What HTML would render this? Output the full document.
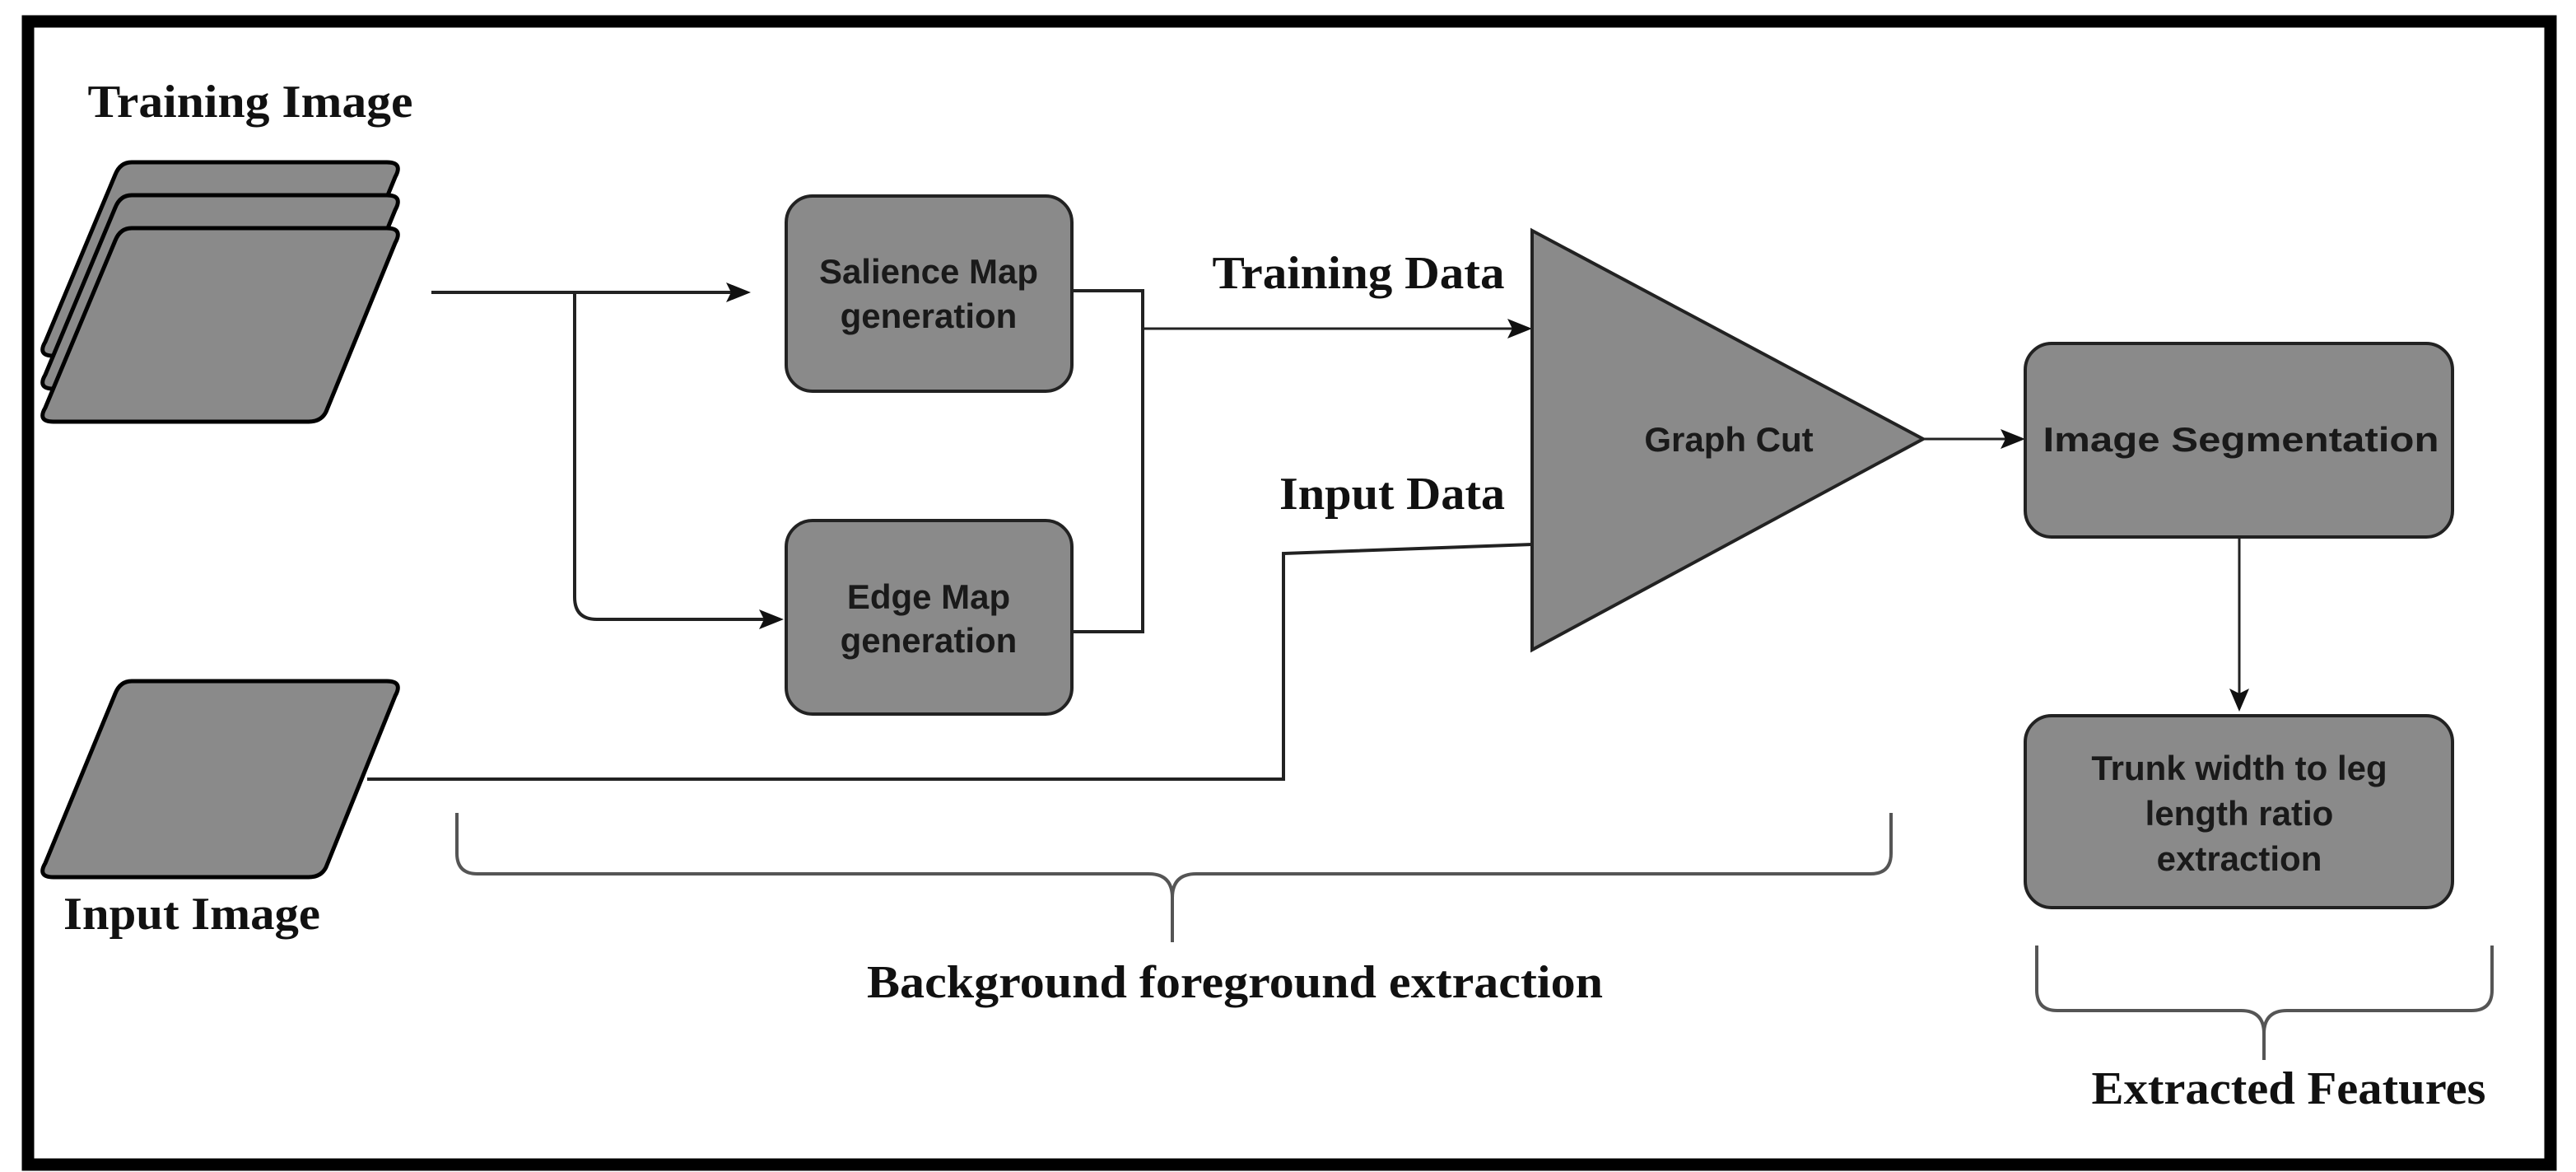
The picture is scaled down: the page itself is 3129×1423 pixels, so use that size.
<!DOCTYPE html>
<html><head><meta charset="utf-8"><style>
html,body{margin:0;padding:0;background:#fff;}
svg{display:block;}
.serif{font-family:"Liberation Serif",serif;font-weight:bold;font-size:56px;fill:#111;}
.sans{font-family:"Liberation Sans",sans-serif;font-weight:bold;font-size:42px;fill:#1a1a1a;}
</style></head><body>
<svg width="3129" height="1423" viewBox="0 0 3129 1423" xmlns="http://www.w3.org/2000/svg">
<rect x="0" y="0" width="3129" height="1423" fill="#fff"/>
<rect x="34" y="26" width="3064" height="1388" fill="none" stroke="#000" stroke-width="15"/>
<defs>
<marker id="ah" markerWidth="10" markerHeight="10" refX="9" refY="5" orient="auto" markerUnits="userSpaceOnUse" viewBox="0 0 10 10">
</marker>
</defs>

<!-- Training image stack -->
<g fill="#8a8a8a" stroke="#000" stroke-width="5" stroke-linejoin="round">
<path d="M160,197 L470,197 Q490,197 480,215 L396,420 Q390,432 375,432 L65,432 Q45,432 55,415 L140,212 Q146,197 160,197 Z"/>
<path d="M160,237 L470,237 Q490,237 480,255 L396,460 Q390,472 375,472 L65,472 Q45,472 55,455 L140,252 Q146,237 160,237 Z"/>
<path d="M160,277 L470,277 Q490,277 480,295 L396,500 Q390,512 375,512 L65,512 Q45,512 55,495 L140,292 Q146,277 160,277 Z"/>
<!-- Input image -->
<path d="M160,827 L470,827 Q490,827 480,845 L396,1053 Q390,1065 375,1065 L65,1065 Q45,1065 55,1048 L140,842 Q146,827 160,827 Z"/>
</g>
<text class="serif" x="304" y="142" text-anchor="middle" textLength="395" lengthAdjust="spacingAndGlyphs">Training Image</text>
<text class="serif" x="233" y="1128" text-anchor="middle" textLength="312" lengthAdjust="spacingAndGlyphs">Input Image</text>

<!-- connectors -->
<g fill="none" stroke="#222" stroke-width="4">
<path d="M524,355 L895,355"/>
<path d="M698,355 L698,725 Q698,752 725,752 L935,752"/>
<path d="M1302,353 L1388,353 L1388,767 L1302,767"/>
<path d="M1388,399 L1845,399" stroke-width="3"/>
<path d="M446,946 L1559,946 L1559,672 L1861,661" stroke-width="4"/>
<path d="M2336,533 L2443,533" stroke-width="3"/>
<path d="M2720,652 L2720,845" stroke-width="3"/>
</g>
<g fill="#111">
<path d="M912,355 L882,343 L888,355 L882,367 Z"/>
<path d="M952,752 L922,740 L928,752 L922,764 Z"/>
<path d="M1861,399 L1831,387 L1837,399 L1831,411 Z"/>
<path d="M2460,533 L2430,521 L2436,533 L2430,545 Z"/>
<path d="M2720,864 L2708,836 L2720,842 L2732,836 Z"/>
</g>

<!-- boxes -->
<g fill="#8a8a8a" stroke="#222" stroke-width="4">
<rect x="955" y="238" width="347" height="237" rx="32"/>
<rect x="955" y="632" width="347" height="235" rx="32"/>
<path d="M1861,280 L2336,533 L1861,789 Z"/>
<rect x="2460" y="417" width="519" height="235" rx="32"/>
<rect x="2460" y="869" width="519" height="233" rx="32"/>
</g>
<text class="sans" x="1128" y="344" text-anchor="middle">Salience Map</text>
<text class="sans" x="1128" y="398" text-anchor="middle">generation</text>
<text class="sans" x="1128" y="739" text-anchor="middle">Edge Map</text>
<text class="sans" x="1128" y="792" text-anchor="middle">generation</text>
<text class="sans" x="2100" y="548" text-anchor="middle">Graph Cut</text>
<text class="sans" x="2722" y="548" text-anchor="middle" textLength="481" lengthAdjust="spacingAndGlyphs">Image Segmentation</text>
<text class="sans" x="2720" y="947" text-anchor="middle">Trunk width to leg</text>
<text class="sans" x="2720" y="1002" text-anchor="middle">length ratio</text>
<text class="sans" x="2720" y="1057" text-anchor="middle">extraction</text>

<text class="serif" x="1650" y="350" text-anchor="middle" textLength="355" lengthAdjust="spacingAndGlyphs">Training Data</text>
<text class="serif" x="1691" y="618" text-anchor="middle" textLength="274" lengthAdjust="spacingAndGlyphs">Input Data</text>

<!-- brackets -->
<g fill="none" stroke="#555" stroke-width="4">
<path d="M555,987 L555,1036 Q555,1061 580,1061 L1395,1061 Q1424,1061 1424,1090 L1424,1144 M1424,1090 Q1424,1061 1453,1061 L2272,1061 Q2297,1061 2297,1036 L2297,987"/>
<path d="M2474,1148 L2474,1202 Q2474,1227 2499,1227 L2722,1227 Q2750,1227 2750,1255 L2750,1287 M2750,1255 Q2750,1227 2778,1227 L3002,1227 Q3027,1227 3027,1202 L3027,1148"/>
</g>
<text class="serif" x="1500" y="1211" text-anchor="middle" textLength="894" lengthAdjust="spacingAndGlyphs">Background foreground extraction</text>
<text class="serif" x="2780" y="1340" text-anchor="middle" textLength="479" lengthAdjust="spacingAndGlyphs">Extracted Features</text>
</svg>
</body></html>
